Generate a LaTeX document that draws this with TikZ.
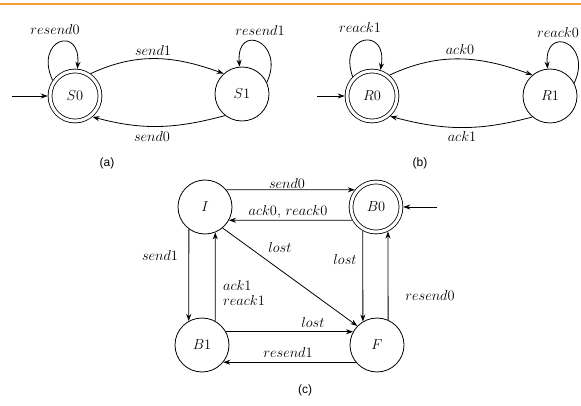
\documentclass[tikz,border=0pt]{standalone}
\usepackage{fontspec}
\newfontfamily\capfont{Liberation Sans}
\usetikzlibrary{arrows.meta}
\definecolor{rulecol}{RGB}{245,155,60}
\begin{document}
\begin{tikzpicture}[x=1pt,y=-1pt,
  every node/.style={font=\fontsize{15.5}{18}\selectfont},
  state/.style={circle,draw,line width=0.8pt,minimum size=54pt,inner sep=0pt},
  accept/.style={state,double,double distance=3pt,minimum size=50pt,outer sep=2.3pt},
  trans/.style={line width=0.8pt,-{Stealth[length=7pt,width=5pt]}},
  lbl/.style={inner sep=1pt},
  caption/.style={font=\capfont\fontsize{12}{14}\selectfont}]
\useasboundingbox (0,0) rectangle (581,406);
\clip (0,0) rectangle (581,406);

% top rule
\coordinate (ruleL) at (0,4.5);
\coordinate (ruleR) at (581,4.5);
\draw[rulecol,line width=2pt] (ruleL) -- (ruleR);

% ---------- (a) sender ----------
\node[accept] (S0) at (75,96) {$S0$};
\node[state]  (S1) at (242,94) {$S1$};
\coordinate (s0in) at (12,96);
\draw[trans] (s0in) -- (S0);
\draw[trans] (S0.55) to[out=25,in=160] (S1.132);
\draw[trans] (S1.-128) to[out=195,in=-15] (S0.-50);
\draw[trans] (S0.145) .. controls +(115:45pt) and +(85:45pt) .. (S0.85);
\draw[trans] (S1.25) .. controls +(65:45pt) and +(95:45pt) .. (S1.95);
\node[lbl] (la1) at (153,51) {$send1$};
\node[lbl] (la2) at (152,137) {$send0$};
\node[lbl] (la3) at (55,30) {$resend0$};
\node[lbl] (la4) at (260,31) {$resend1$};
\node[caption] (capa) at (107,163) {(a)};

% ---------- (b) receiver ----------
\node[accept] (R0) at (372,96) {$R0$};
\node[state]  (R1) at (550,96) {$R1$};
\coordinate (r0in) at (317,96);
\draw[trans] (r0in) -- (R0);
\draw[trans] (R0.50) to[out=25,in=160] (R1.130);
\draw[trans] (R1.-130) to[out=195,in=-15] (R0.-48);
\draw[trans] (R0.135) .. controls +(110:45pt) and +(80:45pt) .. (R0.72);
\draw[trans] (R1.28) .. controls +(65:45pt) and +(95:45pt) .. (R1.95);
\node[lbl] (lb1) at (460,50) {$ack0$};
\node[lbl] (lb2) at (462,137) {$ack1$};
\node[lbl] (lb3) at (360,28) {$reack1$};
\node[lbl,anchor=east] (lb4) at (580,33) {$reack0$};
\node[caption] (capb) at (420,163) {(b)};

% ---------- (c) channel ----------
\node[state]  (I)  at (205,207) {$I$};
\node[accept] (B0) at (376,207) {$B0$};
\node[state]  (B1) at (202,345) {$B1$};
\node[state]  (F)  at (377,345) {$F$};
\coordinate (b0in) at (437,207);
\draw[trans] (b0in) -- (B0);
\draw[trans] (I.39) -- (B0.141);
\draw[trans] (B0.-151) -- (I.-29);
\draw[trans] (I.-126) -- (B1.119);
\draw[trans] (B1.61) -- (I.-68);
\draw[trans] (I.-50) -- (F.136);
\draw[trans] (B0.-119) -- (F.121);
\draw[trans] (F.66) -- (B0.-64);
\draw[trans] (B1.29) -- (F.151);
\draw[trans] (F.-141) -- (B1.-39);
\node[lbl] (lc1) at (287,184) {$send0$};
\node[lbl] (lc2) at (288,212) {$ack0,\,reack0$};
\node[lbl] (lc3) at (280,247) {$lost$};
\node[lbl] (lc4) at (160,255) {$send1$};
\node[lbl,anchor=west,align=left,font=\fontsize{15.5}{14}\selectfont] (lc5) at (222,293) {$ack1$\\$reack1$};
\node[lbl] (lc6) at (345,259) {$lost$};
\node[lbl] (lc7) at (430,295) {$resend0$};
\node[lbl] (lc8) at (313,322) {$lost$};
\node[lbl] (lc9) at (288,352) {$resend1$};
\node[caption] (capc) at (305,390) {(c)};
\end{tikzpicture}
\end{document}
